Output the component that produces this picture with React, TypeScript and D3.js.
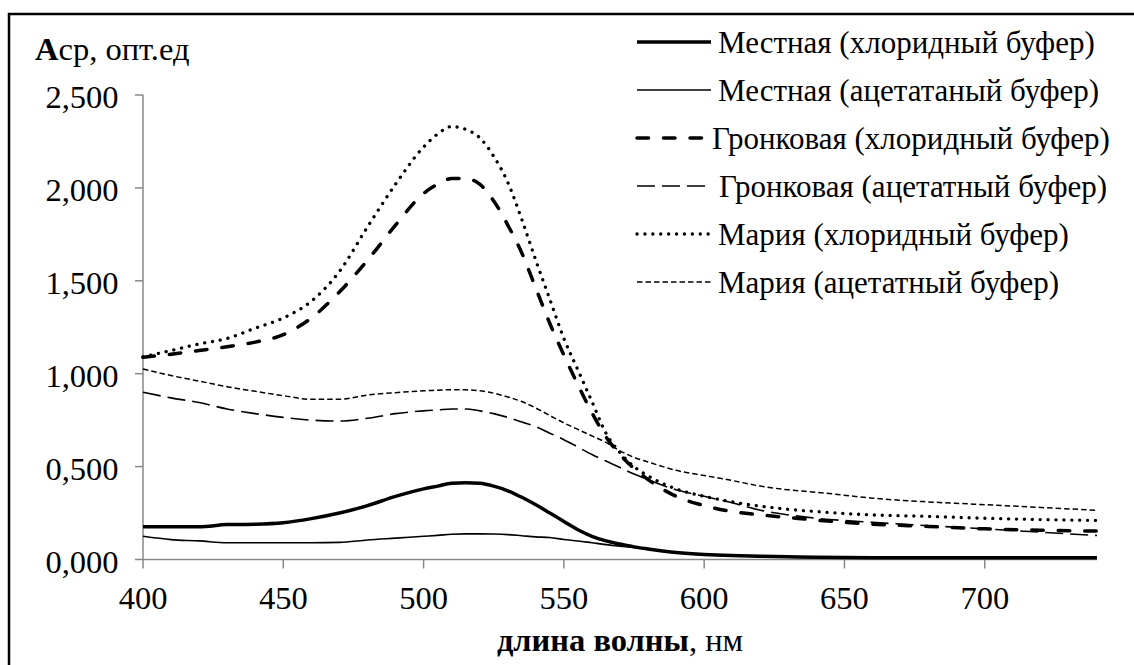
import React from "react";
import * as d3 from "d3";

// ---- data ----
const wavelengths = [400, 410, 420, 430, 440, 450, 460, 470, 480, 490, 500, 505, 510, 515, 520, 525, 530, 535, 540, 545, 550, 555, 560, 565, 570, 575, 580, 590, 600, 610, 620, 630, 640, 660, 680, 700, 720, 740];

const mestnayaChlor = [0.176, 0.176, 0.176, 0.188, 0.19, 0.198, 0.22, 0.25, 0.29, 0.34, 0.38, 0.395, 0.41, 0.413, 0.41, 0.395, 0.37, 0.335, 0.295, 0.25, 0.205, 0.16, 0.125, 0.1, 0.083, 0.068, 0.057, 0.038, 0.027, 0.021, 0.018, 0.015, 0.012, 0.01, 0.01, 0.009, 0.009, 0.009];
const mestnayaAcet = [0.125, 0.107, 0.1, 0.09, 0.09, 0.09, 0.09, 0.092, 0.105, 0.115, 0.125, 0.13, 0.136, 0.138, 0.138, 0.137, 0.134, 0.128, 0.122, 0.118, 0.108, 0.1, 0.09, 0.08, 0.072, 0.065, 0.056, 0.038, 0.027, 0.02, 0.016, 0.013, 0.01, 0.008, 0.008, 0.007, 0.007, 0.007];
const gronkChlor = [1.088, 1.105, 1.125, 1.145, 1.17, 1.21, 1.3, 1.44, 1.61, 1.8, 1.97, 2.02, 2.05, 2.05, 2.02, 1.93, 1.8, 1.65, 1.46, 1.27, 1.1, 0.94, 0.79, 0.66, 0.565, 0.49, 0.43, 0.34, 0.29, 0.258, 0.24, 0.226, 0.212, 0.19, 0.178, 0.165, 0.158, 0.153];
const gronkAcet = [0.9, 0.87, 0.845, 0.81, 0.785, 0.765, 0.75, 0.745, 0.76, 0.785, 0.8, 0.805, 0.81, 0.81, 0.8, 0.785, 0.765, 0.74, 0.715, 0.68, 0.645, 0.605, 0.565, 0.53, 0.495, 0.46, 0.43, 0.375, 0.34, 0.305, 0.265, 0.24, 0.222, 0.2, 0.182, 0.165, 0.147, 0.129];
const mariaChlor = [1.09, 1.125, 1.16, 1.19, 1.245, 1.3, 1.39, 1.55, 1.79, 2.02, 2.22, 2.29, 2.33, 2.315, 2.27, 2.17, 2.03, 1.83, 1.61, 1.4, 1.19, 1.02, 0.85, 0.68, 0.575, 0.5, 0.45, 0.38, 0.34, 0.31, 0.287, 0.27, 0.258, 0.24, 0.232, 0.222, 0.215, 0.21];
const mariaAcet = [1.025, 0.99, 0.96, 0.93, 0.905, 0.882, 0.862, 0.862, 0.885, 0.898, 0.908, 0.911, 0.914, 0.913, 0.908, 0.895, 0.875, 0.85, 0.815, 0.775, 0.735, 0.7, 0.665, 0.63, 0.585, 0.55, 0.525, 0.48, 0.452, 0.425, 0.395, 0.375, 0.362, 0.33, 0.31, 0.295, 0.28, 0.265];

const seriesNames = [
  "Местная (хлоридный буфер)",
  "Местная (ацетатаный буфер)",
  "Гронковая (хлоридный буфер)",
  "Гронковая (ацетатный буфер)",
  "Мария (хлоридный буфер)",
  "Мария (ацетатный буфер)",
];
const xTicks = [400, 450, 500, 550, 600, 650, 700];
const yTicks = [0, 0.5, 1, 1.5, 2, 2.5];

const seriesValues = [mestnayaChlor, mestnayaAcet, gronkChlor, gronkAcet, mariaChlor, mariaAcet];
const seriesStyles = [
  { width: 3.5, dash: null as string | null, cap: "butt" },
  { width: 1.6, dash: null as string | null, cap: "butt" },
  { width: 3.5, dash: "11.5,15", cap: "round" },
  { width: 1.6, dash: "18,7", cap: "butt" },
  { width: 3.3, dash: "0.1,7.8", cap: "round" },
  { width: 1.5, dash: "5.5,3", cap: "butt" },
];
const legendTextX = [718, 718, 712, 719, 718, 718];

const FONT = "'Liberation Serif', Tinos, 'Times New Roman', Times, 'DejaVu Serif', serif";

export default function App() {
  const W = 1134;
  const H = 665;
  const x = d3.scaleLinear().domain([400, 740]).range([143, 1097]);
  const y = d3.scaleLinear().domain([0, 2.5]).range([559.5, 95]);
  const locale = d3.formatLocale({ decimal: ",", thousands: " ", grouping: [3], currency: ["", ""] });
  const fmt = locale.format(".3f");

  const line = d3
    .line<number>()
    .x((_, i) => x(wavelengths[i]))
    .y((d) => y(d))
    .curve(d3.curveMonotoneX);

  const axisColor = "#878787";
  const legX0 = 637;
  const legX1 = 711;
  const legY0 = 42;
  const legDy = 48;

  return (
    <div style={{ position: "absolute", left: 0, top: 0 }}>
      <svg width={W} height={H} style={{ display: "block", background: "#fff" }}>
        <rect x={9} y={14} width={1200} height={800} fill="none" stroke="#000" strokeWidth={2.5} />

        {/* y axis */}
        <line x1={x(400)} x2={x(400)} y1={y(2.5)} y2={y(0)} stroke={axisColor} strokeWidth={1.5} />
        {yTicks.map((t) => (
          <g key={"yt" + t}>
            <line x1={x(400) - 8} x2={x(400)} y1={y(t)} y2={y(t)} stroke={axisColor} strokeWidth={1.5} />
            <text x={118.5} y={y(t)} dy="0.4em" textAnchor="end" style={{ fontFamily: FONT }} fontSize={32.5} fill="#000">
              {fmt(t)}
            </text>
          </g>
        ))}
        {/* x axis */}
        <line x1={x(400)} x2={x(740)} y1={y(0)} y2={y(0)} stroke={axisColor} strokeWidth={1.5} />
        {xTicks.map((t) => (
          <g key={"xt" + t}>
            <line x1={x(t)} x2={x(t)} y1={y(0)} y2={y(0) + 9} stroke={axisColor} strokeWidth={1.5} />
            <text x={x(t)} y={609} textAnchor="middle" style={{ fontFamily: FONT }} fontSize={32.5} fill="#000">
              {t}
            </text>
          </g>
        ))}

        {/* series */}
        {seriesValues.map((vals, i) => (
          <path
            key={"s" + i}
            d={line(vals) || ""}
            fill="none"
            stroke="#000"
            strokeWidth={seriesStyles[i].width}
            strokeDasharray={seriesStyles[i].dash || undefined}
            strokeLinecap={seriesStyles[i].cap as any}
            strokeLinejoin="round"
          />
        ))}

        {/* axis titles */}
        <text x={35} y={60} style={{ fontFamily: FONT }} fontSize={32.5} fill="#000">
          <tspan fontWeight="bold">А</tspan>
          <tspan>ср, опт.ед</tspan>
        </text>
        <text x={(x(400) + x(740)) / 2} y={651} textAnchor="middle" style={{ fontFamily: FONT }} fontSize={32.5} fill="#000">
          <tspan fontWeight="bold">длина волны</tspan>
          <tspan>, нм</tspan>
        </text>

        {/* legend */}
        {seriesNames.map((name, i) => {
          const ly = legY0 + i * legDy;
          const st = seriesStyles[i];
          return (
            <g key={"lg" + i}>
              <line
                x1={legX0}
                x2={legX1}
                y1={ly}
                y2={ly}
                stroke="#000"
                strokeWidth={st.width}
                strokeDasharray={st.dash || undefined}
                strokeLinecap={st.cap as any}
              />
              <text x={legendTextX[i]} y={ly} dy="0.35em" style={{ fontFamily: FONT }} fontSize={31} fill="#000">
                {name}
              </text>
            </g>
          );
        })}
      </svg>
    </div>
  );
}
